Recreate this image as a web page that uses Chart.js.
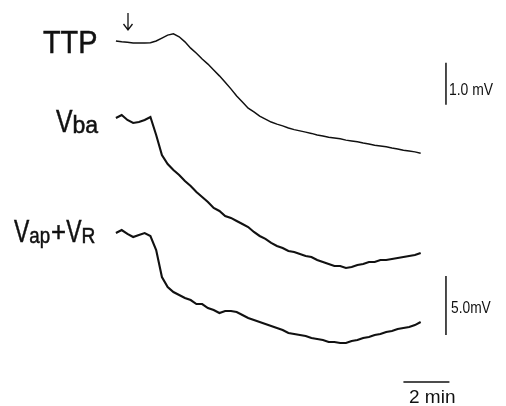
<!DOCTYPE html>
<html>
<head>
<meta charset="utf-8">
<script src="https://cdn.jsdelivr.net/npm/chart.js@4"></script>
<style>
  html, body { margin: 0; padding: 0; background: #fff; }
  #wrap { width: 506px; height: 406px; position: relative; }
</style>
</head>
<body>
<div id="wrap"><canvas id="myChart"></canvas></div>
<script>
// time in minutes after the arrow
var times = [0, 0.25, 0.5, 0.75, 1, 1.25, 1.5, 1.75, 2, 2.25, 2.5, 2.75, 3, 3.25, 3.5, 3.75,
  4, 4.25, 4.5, 4.75, 5, 5.25, 5.5, 5.75, 6, 6.25, 6.5, 6.75, 7, 7.25, 7.5, 7.75,
  8, 8.25, 8.5, 8.75, 9, 9.25, 9.5, 9.75, 10, 10.25, 10.5, 10.75, 11, 11.25, 11.5, 11.75,
  12, 12.25, 12.5, 12.75, 13, 13.25];

// TTP, mV relative to start
var ttp = [0, -0.02, -0.03, -0.05, -0.05, -0.05, -0.04, 0, 0.07, 0.14, 0.17, 0.1, -0.02, -0.17, -0.29, -0.43,
  -0.55, -0.69, -0.83, -0.98, -1.14, -1.31, -1.45, -1.6, -1.69, -1.79, -1.86, -1.93, -1.98, -2.02, -2.07, -2.11,
  -2.14, -2.17, -2.2, -2.24, -2.26, -2.29, -2.31, -2.33, -2.36, -2.38, -2.4, -2.43, -2.45, -2.48, -2.5, -2.52,
  -2.55, -2.57, -2.6, -2.62, -2.64, -2.67];

// Vba, mV relative to start
var vba = [0, 0.25, -0.17, -0.42, -0.34, -0.17, 0.08, -1.44, -3.14, -3.9, -4.41, -4.83, -5.34, -5.76, -6.27, -6.69,
  -7.12, -7.63, -7.88, -8.31, -8.47, -8.73, -8.98, -9.24, -9.66, -10.0, -10.25, -10.59, -10.85, -11.02, -11.27, -11.36,
  -11.53, -11.69, -11.78, -12.03, -12.2, -12.37, -12.54, -12.54, -12.71, -12.63, -12.46, -12.37, -12.2, -12.2, -12.03, -12.03,
  -11.95, -11.86, -11.78, -11.69, -11.61, -11.44];

// Vap + VR, mV relative to start
var vapR = [0, 0.25, -0.08, -0.34, -0.17, 0, -0.25, -1.44, -3.73, -4.58, -5.0, -5.25, -5.51, -5.68, -6.02, -6.02,
  -6.36, -6.53, -6.78, -6.61, -6.61, -6.69, -6.95, -7.2, -7.37, -7.54, -7.71, -7.88, -8.05, -8.22, -8.47, -8.56,
  -8.64, -8.73, -8.9, -8.98, -9.07, -9.24, -9.24, -9.32, -9.32, -9.15, -9.07, -8.9, -8.81, -8.64, -8.56, -8.39,
  -8.31, -8.14, -8.05, -7.97, -7.8, -7.54];

// scale bars
var barTTP = [[14.35, -0.52], [14.35, -1.52]];   // 1.0 mV
var barV = [[14.35, -3.64], [14.35, -8.64]];     // 5.0 mV
var barTime = [[12.5, -12.63], [14.5, -12.63]];  // 2 min

var pts = function(xs, ys) {
    return xs.map(function(t, i) { return {x: t, y: ys[i]}; });
};
var pairs = function(arr) {
    return arr.map(function(p) { return {x: p[0], y: p[1]}; });
};

var line = function(data, axis, w) {
    return {
        data: data,
        yAxisID: axis,
        borderColor: "#111",
        borderWidth: w,
        pointRadius: 0,
        fill: false,
        tension: 0
    };
};

var labels = {
    id: 'labels',
    afterDraw: function(chart) {
        var c = chart.ctx;
        c.save();
        c.fillStyle = "#111";
        c.strokeStyle = "#111";
        c.lineWidth = 0.5;
        c.textBaseline = "alphabetic";
        // text drawn squeezed horizontally by sx, a bit heavier by a thin stroke
        var put = function(txt, x, y, size, sx) {
            c.font = size + "px 'Liberation Sans'";
            c.setTransform(sx, 0, 0, 1, x, y);
            c.fillText(txt, 0, 0);
            c.strokeText(txt, 0, 0);
            c.setTransform(1, 0, 0, 1, 0, 0);
            return x + c.measureText(txt).width * sx;
        };
        put("TTP", 43, 53, 31, 0.93);
        var x = put("V", 56, 132, 31, 0.8);
        put("ba", x, 133, 23, 1.0);
        x = put("V", 14, 242, 31, 0.74);
        x = put("ap", x, 243, 22, 0.85);
        x = put("+", x + 1, 241, 28, 0.92);
        x = put("V", x, 242, 31, 0.74);
        put("R", x, 243, 22, 0.87);

        var small = function(txt, x, y, size, sx) {
            c.font = size + "px 'Liberation Sans'";
            c.setTransform(sx, 0, 0, 1, x, y);
            c.fillText(txt, 0, 0);
            c.setTransform(1, 0, 0, 1, 0, 0);
        };
        small("1.0 mV", 449, 95, 16, 0.87);
        small("5.0mV", 451, 313, 16, 0.86);
        small("2 min", 409, 403, 19, 1.0);

        // arrow marking the start
        c.lineWidth = 1.3;
        c.beginPath();
        c.moveTo(128, 13);
        c.lineTo(128, 30);
        c.moveTo(123.5, 24);
        c.lineTo(128, 30);
        c.lineTo(132.5, 24);
        c.stroke();
        c.restore();
    }
};

var ctx = document.getElementById("myChart");
var myLineChart = new Chart(ctx, {
    type: 'line',
    data: {
        datasets: [
            line(pts(times, ttp), 'yT', 1.5),
            line(pts(times, vba), 'yB', 2.1),
            line(pts(times, vapR), 'yA', 2.1),
            line(pairs(barTTP), 'yT', 1.5),
            line(pairs(barV), 'yA', 1.5),
            line(pairs(barTime), 'yA', 1.5)
        ]
    },
    options: {
        responsive: true,
        maintainAspectRatio: false,
        animation: false,
        layout: { padding: 0 },
        plugins: { legend: { display: false }, tooltip: { enabled: false } },
        scales: {
            x: { type: 'linear', display: false, min: -5.04, max: 16.96 },
            yT: { display: false, min: -8.69, max: 0.976 },
            yB: { display: false, min: -24.41, max: 10.0 },
            yA: { display: false, min: -14.66, max: 19.75 }
        }
    },
    plugins: [labels]
});
</script>
</body>
</html>
